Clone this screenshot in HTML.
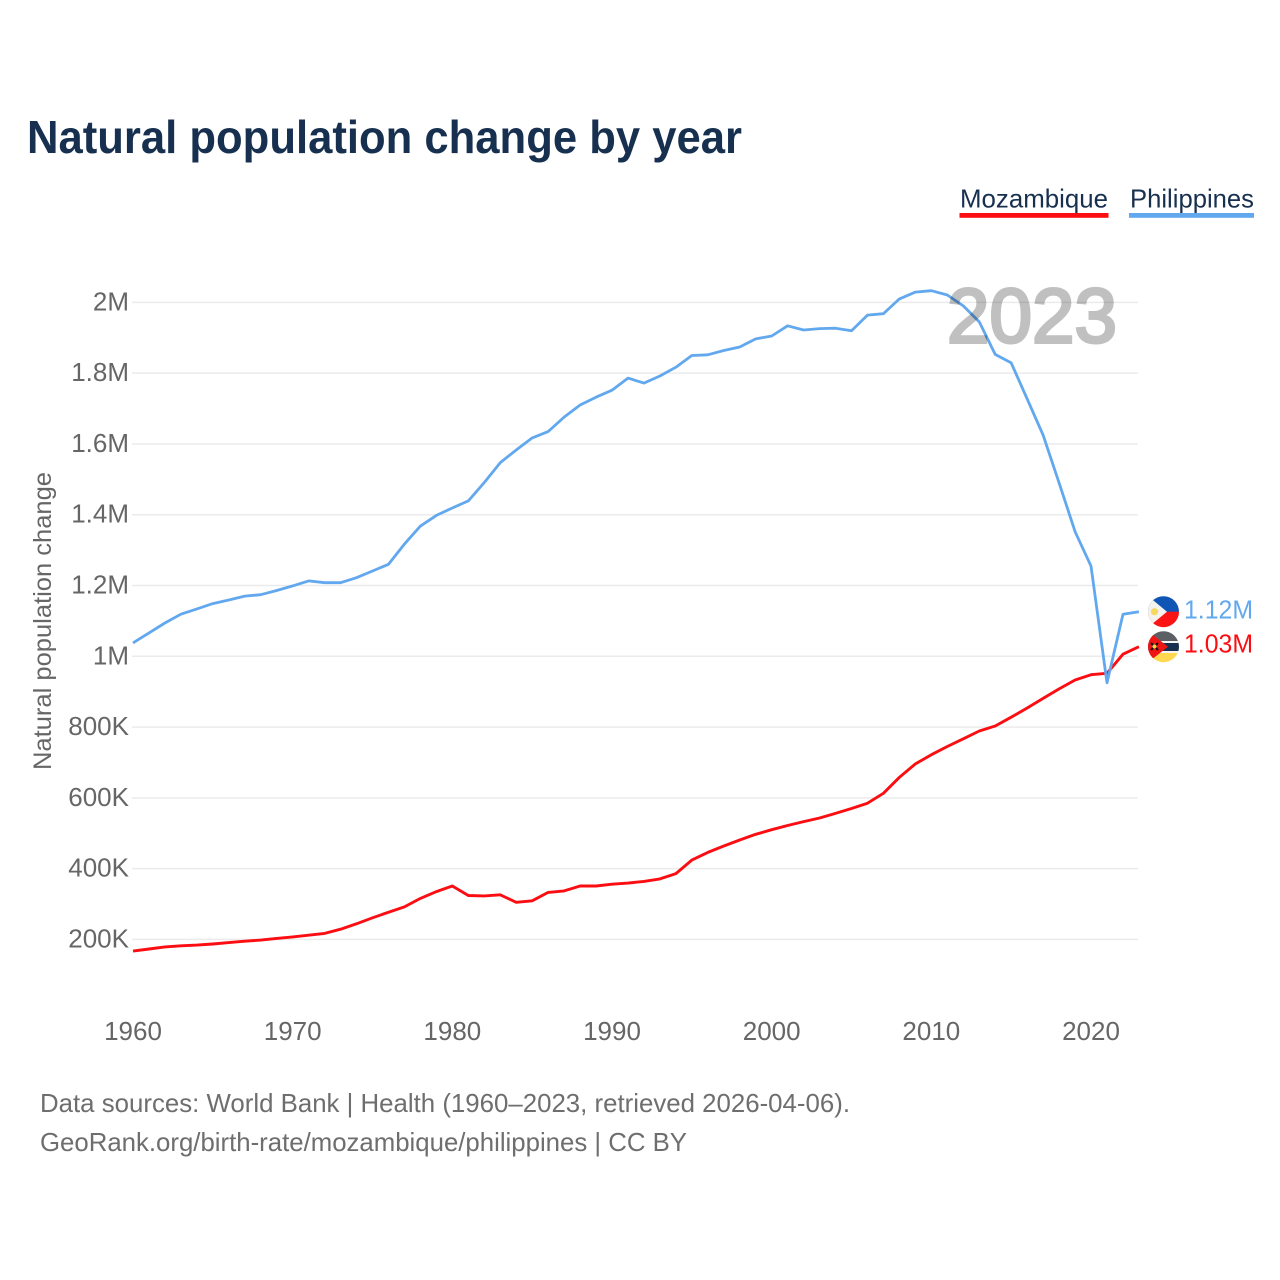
<!DOCTYPE html>
<html lang="en">
<head>
<meta charset="utf-8">
<title>Natural population change by year</title>
<style>
html,body{margin:0;padding:0;background:#fff;width:1280px;height:1280px;overflow:hidden}
svg{display:block;font-family:"Liberation Sans",sans-serif}
</style>
</head>
<body>
<svg id="chart" xmlns="http://www.w3.org/2000/svg" width="1280" height="1280" viewBox="0 0 1280 1280">
  <defs>
    <clipPath id="flag-clip-ph"><circle cx="1163.5" cy="611.7" r="15.5"/></clipPath>
    <clipPath id="flag-clip-mz"><circle cx="1163.5" cy="646.7" r="15.5"/></clipPath>
  </defs>
  <rect width="1280" height="1280" fill="#fff"/>
  <text x="27" y="153" font-size="46" font-weight="700" fill="#17304f" textLength="715" lengthAdjust="spacingAndGlyphs">Natural population change by year</text>

  <g>
    <text x="960" y="207.5" font-size="26" fill="#17304f" textLength="148" lengthAdjust="spacingAndGlyphs">Mozambique</text>
    <rect x="959.5" y="213" width="149" height="4.8" fill="#fb0d12"/>
  </g>
  <g>
    <text x="1130" y="207.5" font-size="26" fill="#17304f" textLength="124" lengthAdjust="spacingAndGlyphs">Philippines</text>
    <rect x="1129" y="213" width="125" height="4.8" fill="#62a8ee"/>
  </g>

  <g id="grid"></g>
  <g id="ytick-labels"></g>
  <g id="xtick-labels"></g>
  <text transform="translate(51 770) rotate(-90)" font-size="25" fill="#666" textLength="298" lengthAdjust="spacingAndGlyphs">Natural population change</text>

  <g id="series"></g>

  <text x="947" y="342.5" font-size="77" font-weight="400" fill="#c0c0c0" stroke="#c0c0c0" stroke-width="3" textLength="170" lengthAdjust="spacingAndGlyphs" style="mix-blend-mode:multiply">2023</text>

  <g clip-path="url(#flag-clip-ph)">
    <rect x="1148" y="596" width="31" height="16" fill="#0f55b5"/>
    <rect x="1148" y="611.7" width="31" height="16" fill="#fc1414"/>
    <polygon points="1148,596 1148,627.4 1167,611.7" fill="#f4f2ee"/>
    <circle cx="1154.5" cy="611.7" r="3.6" fill="#f8d860"/>
  </g>
  <g clip-path="url(#flag-clip-mz)">
    <rect x="1148" y="631" width="31" height="11" fill="#5c5f63"/>
    <rect x="1148" y="641" width="31" height="2" fill="#f4f4f4"/>
    <rect x="1148" y="643" width="31" height="8" fill="#17304f"/>
    <rect x="1148" y="651" width="31" height="2" fill="#f4f4f4"/>
    <rect x="1148" y="653" width="31" height="10" fill="#ffd84f"/>
    <polygon points="1148,631 1148,662.4 1168,646.7" fill="#f01515"/>
    <path d="M1151 643l7 7M1158 643l-7 7" stroke="#111" stroke-width="2"/>
    <circle cx="1154.5" cy="646.5" r="2" fill="#f4d34a"/>
  </g>
  <text id="label-ph" x="1184" y="618.5" font-size="26" fill="#62a8ee" textLength="69" lengthAdjust="spacingAndGlyphs"></text>
  <text id="label-mz" x="1184" y="652.5" font-size="26" fill="#fb0d12" textLength="69" lengthAdjust="spacingAndGlyphs"></text>

  <text x="40" y="1112" font-size="26" fill="#6e6e6e" textLength="810" lengthAdjust="spacingAndGlyphs">Data sources: World Bank | Health (1960–2023, retrieved 2026-04-06).</text>
  <text x="40" y="1151" font-size="26" fill="#6e6e6e" textLength="647" lengthAdjust="spacingAndGlyphs">GeoRank.org/birth-rate/mozambique/philippines | CC BY</text>
</svg>
<script>
const startYear = 1960;
const philippines = [
  1.038,1.066,1.094,1.119,1.134,1.149,1.159,1.170,1.174,1.186,
  1.199,1.213,1.208,1.208,1.222,1.241,1.260,1.317,1.368,1.398,
  1.419,1.439,1.491,1.547,1.583,1.617,1.635,1.676,1.710,1.732,
  1.752,1.786,1.772,1.792,1.817,1.850,1.852,1.864,1.874,1.897,
  1.905,1.934,1.922,1.926,1.927,1.920,1.964,1.968,2.010,2.029,
  2.033,2.021,1.990,1.945,1.853,1.829,1.727,1.625,1.490,1.352,
  1.255,0.925,1.119,1.126
];
const mozambique = [
  0.167,0.173,0.179,0.182,0.184,0.187,0.191,0.195,0.198,0.203,
  0.207,0.212,0.217,0.229,0.244,0.261,0.277,0.292,0.316,0.335,
  0.351,0.324,0.323,0.326,0.305,0.309,0.333,0.337,0.351,0.351,
  0.356,0.359,0.364,0.371,0.386,0.424,0.446,0.464,0.481,0.497,
  0.510,0.522,0.533,0.543,0.556,0.570,0.585,0.613,0.658,0.696,
  0.722,0.745,0.767,0.789,0.803,0.828,0.854,0.881,0.908,0.933,
  0.948,0.952,1.006,1.027
];
const yTickValues = [2,1.8,1.6,1.4,1.2,1,0.8,0.6,0.4,0.2];
const yTickLabels = ["2M","1.8M","1.6M","1.4M","1.2M","1M","800K","600K","400K","200K"];
const xTickYears = [1960,1970,1980,1990,2000,2010,2020];
const endLabels = ["1.12M","1.03M"];

const NS = "http://www.w3.org/2000/svg";
function xScale(year){ return 133 + (year - 1960) * 15.967; }
function yScale(v){ return 656.3 - (v - 1) * 353.9; }

const grid = document.getElementById("grid");
const yTicks = document.getElementById("ytick-labels");
yTickValues.forEach(function(v, i){
  const l = document.createElementNS(NS, "line");
  
  
  l.setAttribute("x1", 132);
  l.setAttribute("x2", 1138);
  l.setAttribute("y1", yScale(v));
  l.setAttribute("y2", yScale(v));
  l.setAttribute("stroke", "#ebebeb");
  l.setAttribute("stroke-width", "1.5");
  grid.appendChild(l);
  const t = document.createElementNS(NS, "text");
  
  
  t.setAttribute("x", 129);
  t.setAttribute("y", yScale(v) + 8);
  t.setAttribute("text-anchor", "end");
  t.setAttribute("font-size", "26");
  t.setAttribute("fill", "#666");
  t.textContent = yTickLabels[i];
  yTicks.appendChild(t);
});

const xTicks = document.getElementById("xtick-labels");
xTickYears.forEach(function(y){
  const t = document.createElementNS(NS, "text");
  
  
  t.setAttribute("x", xScale(y));
  t.setAttribute("y", 1040);
  t.setAttribute("text-anchor", "middle");
  t.setAttribute("font-size", "26");
  t.setAttribute("fill", "#666");
  t.textContent = String(y);
  xTicks.appendChild(t);
});

function pathFor(values){
  return values.map(function(v, i){
    return (i ? "L" : "M") + xScale(startYear + i).toFixed(1) + " " + yScale(v).toFixed(1);
  }).join("");
}
const seriesGroup = document.getElementById("series");
const mozLine = document.createElementNS(NS, "path");


mozLine.setAttribute("d", pathFor(mozambique));
mozLine.setAttribute("fill", "none");
mozLine.setAttribute("stroke", "#fb0d12");
mozLine.setAttribute("stroke-width", "2.9");
mozLine.setAttribute("stroke-linejoin", "round");
seriesGroup.appendChild(mozLine);
const phLine = document.createElementNS(NS, "path");


phLine.setAttribute("d", pathFor(philippines));
phLine.setAttribute("fill", "none");
phLine.setAttribute("stroke", "#62a8ee");
phLine.setAttribute("stroke-width", "2.8");
phLine.setAttribute("stroke-linejoin", "round");
seriesGroup.appendChild(phLine);

document.getElementById("label-ph").textContent = endLabels[0];
document.getElementById("label-mz").textContent = endLabels[1];
</script>
</body>
</html>
